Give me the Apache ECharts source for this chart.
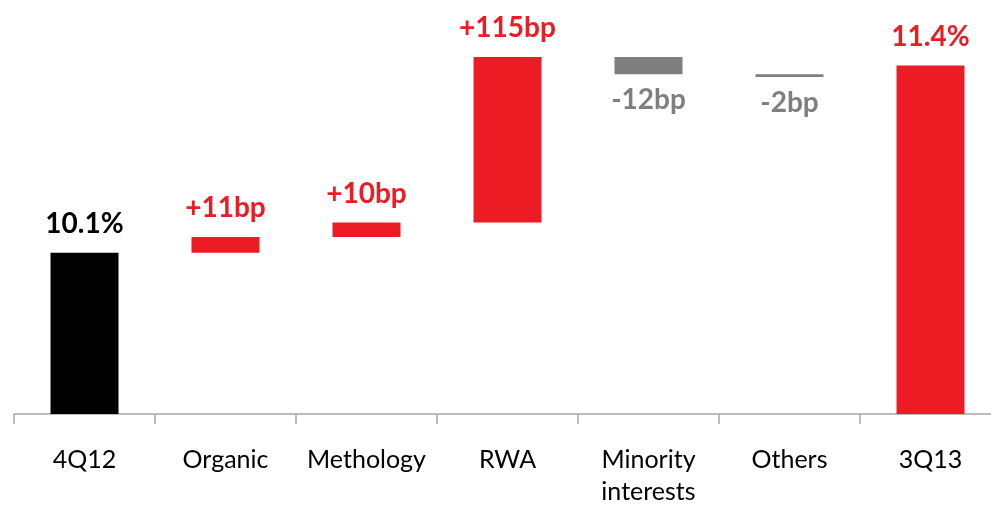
<!DOCTYPE html>
<html>
<head>
<meta charset="utf-8">
<script src="https://cdn.jsdelivr.net/npm/echarts@6/dist/echarts.min.js"></script>
<style>
  html, body { margin: 0; padding: 0; background: #ffffff; }
  #chart { width: 991px; height: 505px; }
</style>
</head>
<body>
<div id="chart"></div>
<script>
// Capital ratio bridge, 4Q12 -> 3Q13 (values in %)
const categories = ['4Q12', 'Organic', 'Methology', 'RWA', 'Minority\ninterests', 'Others', '3Q13'];
const startValue = 10.1;            // 4Q12 ratio, %
const changes = [0.11, 0.10, 1.15, -0.12, -0.02];   // step changes, % points
const endValue = 11.4;              // 3Q13 ratio, %

const RED = '#ED1C24';
const GREY = '#7F7F7F';
const FONT = 'Lato, "Liberation Sans", sans-serif';

// Build the invisible base and the visible segment of each bar
const baseData = [];
const barData = [];

baseData.push(0);
barData.push({
  value: startValue,
  itemStyle: { color: '#000000' },
  label: { position: 'top', distance: 15, color: '#000000', formatter: startValue.toFixed(1) + '%' }
});

let running = startValue;
changes.forEach(function (d) {
  const next = +(running + d).toFixed(4);
  baseData.push(Math.min(running, next));
  const up = d >= 0;
  const bp = Math.round(d * 100);
  barData.push({
    value: Math.abs(d),
    itemStyle: { color: up ? RED : GREY },
    label: {
      position: up ? 'top' : 'bottom',
      distance: up ? 15 : 12,
      color: up ? RED : GREY,
      formatter: (up ? '+' : '') + bp + 'bp'
    }
  });
  running = next;
});

baseData.push(0);
barData.push({
  value: endValue,
  itemStyle: { color: RED },
  label: { position: 'top', distance: 15, color: RED, formatter: endValue.toFixed(1) + '%' }
});

const chart = echarts.init(document.getElementById('chart'), null, { renderer: 'canvas' });
chart.setOption({
  animation: false,
  backgroundColor: '#ffffff',
  grid: { left: 14, top: 0, right: -10, bottom: 91, containLabel: false, outerBoundsMode: 'none' },
  xAxis: {
    type: 'category',
    data: categories,
    axisLine: { lineStyle: { color: '#A6A6A6', width: 1.5 } },
    axisTick: { show: true, length: 10, lineStyle: { color: '#A6A6A6', width: 1.5 } },
    axisLabel: {
      interval: 0,
      margin: 30,
      color: '#000000',
      fontFamily: FONT,
      fontSize: 25,
      lineHeight: 32
    }
  },
  yAxis: {
    type: 'value',
    min: 8.98,
    max: 11.855,
    show: false,
    splitLine: { show: false }
  },
  series: [
    {
      type: 'bar',
      stack: 'bridge',
      data: baseData,
      barWidth: 68,
      itemStyle: { color: 'transparent' },
      emphasis: { disabled: true },
      silent: true
    },
    {
      type: 'bar',
      stack: 'bridge',
      data: barData,
      barWidth: 68,
      label: {
        show: true,
        fontFamily: FONT,
        fontSize: 28,
        fontWeight: 'bold'
      }
    }
  ]
});
</script>
</body>
</html>
